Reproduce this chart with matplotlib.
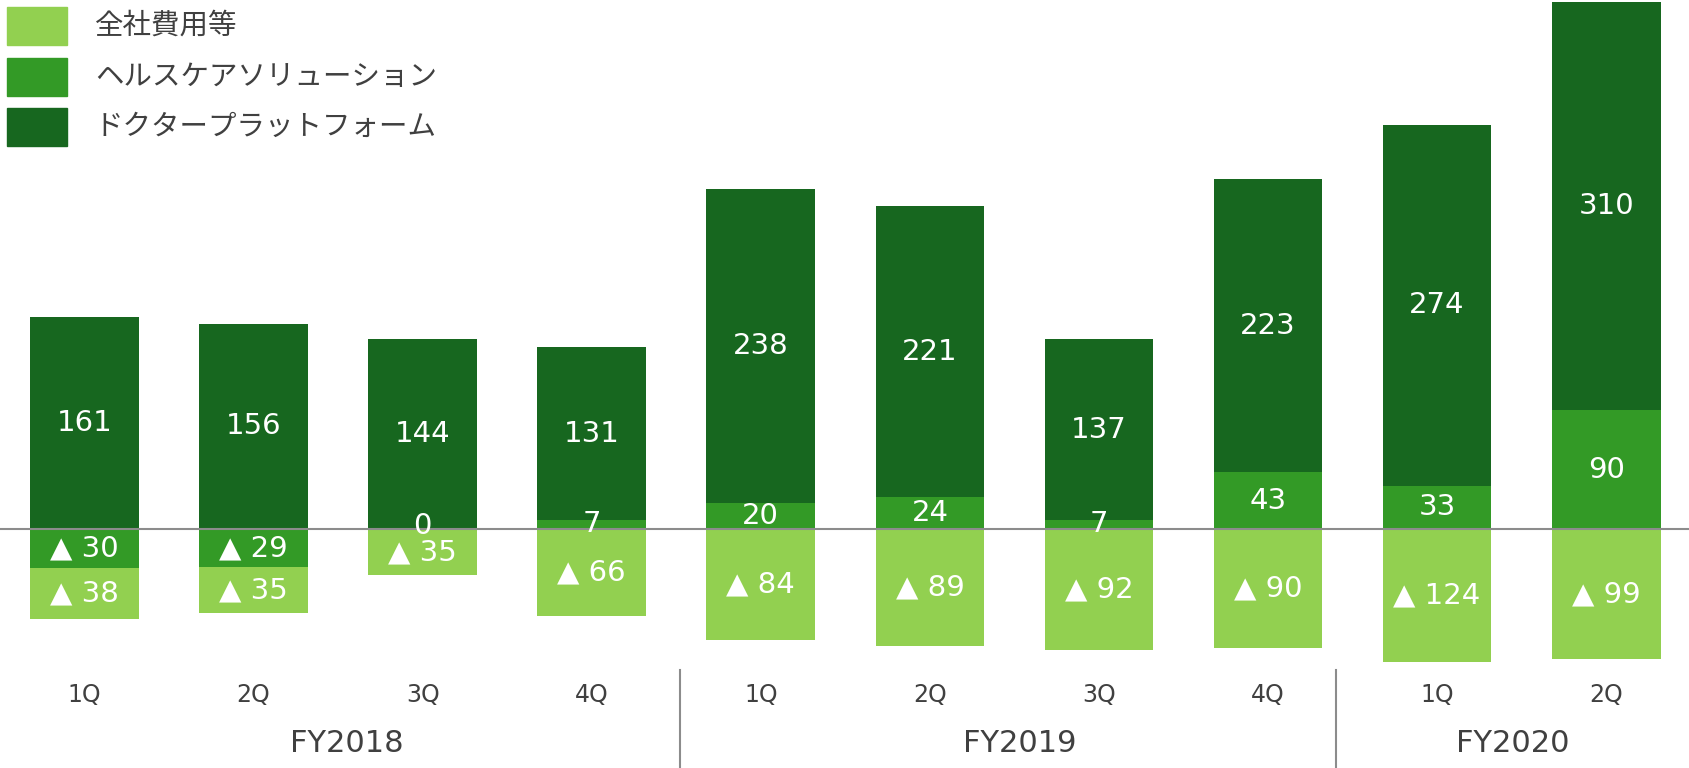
import numpy as np
import matplotlib
matplotlib.use('Agg')
import matplotlib.pyplot as plt
from matplotlib.patches import Rectangle

# quarterly segment profit (negative = loss, shown with ▲)
quarters = ['1Q', '2Q', '3Q', '4Q', '1Q', '2Q', '3Q', '4Q', '1Q', '2Q']
years = ['FY2018', 'FY2019', 'FY2020']
doctor = [161, 156, 144, 131, 238, 221, 137, 223, 274, 310]
health = [-30, -29, 0, 7, 20, 24, 7, 43, 33, 90]
# drawn height of the corporate bar as it appears; FY2020 1Q is labelled 124
corporate = [-38, -35, -35, -66, -84, -89, -92, -90, -101, -99]
corporate_labels = [-38, -35, -35, -66, -84, -89, -92, -90, -124, -99]
legend_labels = ['全社費用等', 'ヘルスケアソリューション', 'ドクタープラットフォーム']

c_light = '#92D050'
c_mid = '#339A26'
c_dark = '#17671F'
txt_col = '#404040'

W, H = 1689, 768
fig = plt.figure(figsize=(W / 100, H / 100), dpi=100)
ax = fig.add_axes([0, 0, 1, 1])

x = np.arange(len(quarters))
doctor = np.array(doctor)
health = np.array(health)
corporate = np.array(corporate)
h_pos = np.maximum(health, 0)
h_neg = np.minimum(health, 0)

bw = 0.643
ax.bar(x, health, width=bw, color=c_mid, zorder=2)
ax.bar(x, doctor, bottom=h_pos, width=bw, color=c_dark, zorder=2)
ax.bar(x, corporate, bottom=h_neg, width=bw, color=c_light, zorder=2)

ax.axhline(0, color='#8c8c8c', lw=1.5, zorder=3)


def fmt(v):
    return f'▲ {abs(v)}' if v < 0 else f'{v}'


num_kw = dict(ha='center', va='center', color='white', fontsize=21,
              family='DejaVu Sans', zorder=4)
for i in range(len(x)):
    ax.text(x[i], h_pos[i] + doctor[i] / 2, fmt(doctor[i]), **num_kw)
    ax.text(x[i], health[i] / 2 + (2 if health[i] == 0 else 0),
            fmt(health[i]), **num_kw)
    ax.text(x[i], h_neg[i] + corporate[i] / 2, fmt(corporate_labels[i]),
            **num_kw)

# category axis (quarters + fiscal years)
for i, q in enumerate(quarters):
    ax.text(x[i], -126, q, ha='center', va='center', fontsize=17,
            color=txt_col)
for xpos, yr in zip([1.55, 5.53, 8.45], years):
    ax.text(xpos, -163, yr, ha='center', va='center', fontsize=22,
            color=txt_col)
for sep in [3.52, 7.40]:
    ax.plot([sep, sep], [-107, -185], color='#8c8c8c', lw=1.5,
            clip_on=False)

ax.set_xlim(-0.5, 9.49)
ax.set_ylim(-181.5, 401.7)
ax.axis('off')

# legend drawn by hand
leg_colors = [c_light, c_mid, c_dark]
leg_y = [26, 77, 127]
for col, lab, yc in zip(leg_colors, legend_labels, leg_y):
    fig.add_artist(Rectangle((7.5 / W, 1 - (yc + 18.5) / H), 60 / W, 37 / H,
                             transform=fig.transFigure, color=col))
    fig.text(95 / W, 1 - yc / H, lab, ha='left', va='center', fontsize=20.5,
             color=txt_col, family=['Noto Sans CJK JP', 'DejaVu Sans'])

fig.savefig('out.png', dpi=100)
